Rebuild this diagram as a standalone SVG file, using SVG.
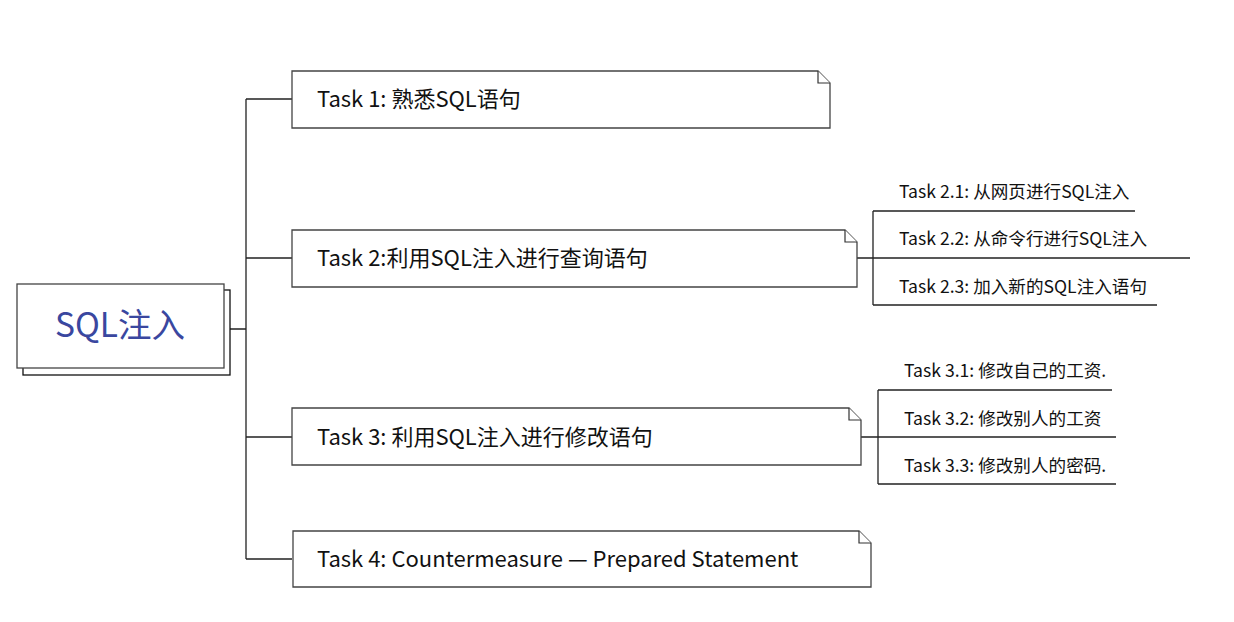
<svg xmlns="http://www.w3.org/2000/svg" width="1234" height="622" viewBox="0 0 1234 622">
<style>
.bg{fill:#ffffff}
.box{fill:#ffffff;stroke:#444;stroke-width:1.3}
.shadow{fill:#ffffff;stroke:#111;stroke-width:1.3}
.fold{fill:#ffffff;stroke:#333;stroke-width:1.2}
.conn{fill:none;stroke:#222;stroke-width:1.3}
.t{font-family:"Noto Sans CJK SC","Noto Sans",sans-serif;fill:#111}
.main{font-size:22px}
.sub{font-size:17.6px}
.root{font-size:33.5px;fill:#3a479f}
</style>
<rect class="bg" x="0" y="0" width="1234" height="622"/>
<g id="connectors">
<path class="conn" d="M230 329 H246 M246 99 V559 M246 99 H292 M246 258 H292 M246 437 H292 M246 559 H292"/>
<path class="conn" d="M857 258 H1190 M873 211 V305 M873 211 H1135 M873 305 H1157"/>
<path class="conn" d="M861 437 H1116 M878 390 V484 M878 390 H1112 M878 484 H1116"/>
</g>
<g id="root">
<rect class="shadow" x="23" y="290" width="207" height="85"/>
<rect class="box" x="17" y="284" width="207" height="84"/>
<text class="t root" x="120" y="337" text-anchor="middle">SQL注入</text>
</g>
<g id="task1">
<path class="box" d="M292 71 H818 L830 83 V128 H292 Z"/>
<path class="fold" d="M818 71 V83 H830"/>
<text class="t main" x="317" y="107">Task 1: 熟悉SQL语句</text>
</g>
<g id="task2">
<path class="box" d="M292 230 H845 L857 242 V287 H292 Z"/>
<path class="fold" d="M845 230 V242 H857"/>
<text class="t main" x="317" y="266">Task 2:利用SQL注入进行查询语句</text>
</g>
<g id="task2-1"><text class="t sub" x="899" y="198">Task 2.1: 从网页进行SQL注入</text></g>
<g id="task2-2"><text class="t sub" x="899" y="245">Task 2.2: 从命令行进行SQL注入</text></g>
<g id="task2-3"><text class="t sub" x="899" y="293">Task 2.3: 加入新的SQL注入语句</text></g>
<g id="task3">
<path class="box" d="M292 408 H849 L861 420 V465 H292 Z"/>
<path class="fold" d="M849 408 V420 H861"/>
<text class="t main" x="317" y="445">Task 3: 利用SQL注入进行修改语句</text>
</g>
<g id="task3-1"><text class="t sub" x="904" y="377">Task 3.1: 修改自己的工资.</text></g>
<g id="task3-2"><text class="t sub" x="904" y="425">Task 3.2: 修改别人的工资</text></g>
<g id="task3-3"><text class="t sub" x="904" y="472">Task 3.3: 修改别人的密码.</text></g>
<g id="task4">
<path class="box" d="M293 531 H859 L871 543 V587 H293 Z"/>
<path class="fold" d="M859 531 V543 H871"/>
<text class="t main" x="317" y="567">Task 4: Countermeasure — Prepared Statement</text>
</g>
</svg>
